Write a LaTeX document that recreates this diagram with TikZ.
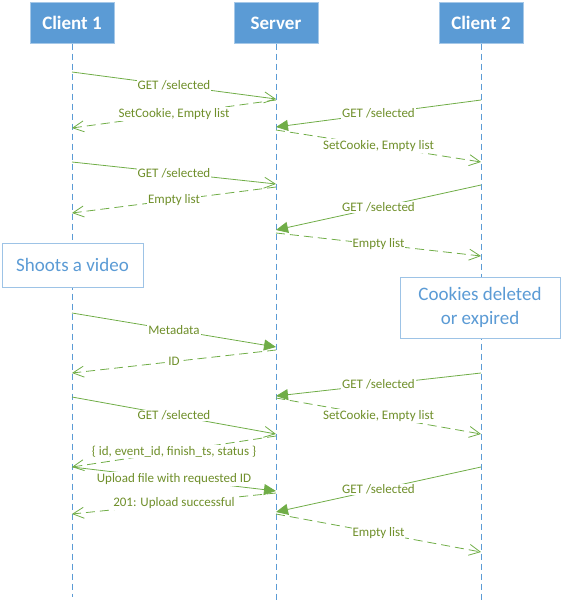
\documentclass[tikz,border=0pt]{standalone}
\usepackage{fontspec}
\setmainfont{Carlito}
\usepackage{xcolor}
\usetikzlibrary{arrows.meta}

\definecolor{lifeblue}{HTML}{5B9BD5}
\definecolor{noteblue}{HTML}{9DC3E6}
\definecolor{msggreen}{HTML}{70AD47}
\definecolor{lblgreen}{HTML}{6F8F2A}

\begin{document}
\begin{tikzpicture}[x=1pt, y=-1pt,
    head/.style={draw=lifeblue!55!white, fill=lifeblue, text=white, font=\fontsize{19}{22}\selectfont\bfseries, minimum width=84pt, minimum height=41pt},
    note/.style={draw=noteblue, fill=white, text=lifeblue, font=\fontsize{19}{24}\selectfont, align=center},
    life/.style={draw=lifeblue, line width=0.8pt, dash pattern=on 6pt off 4pt},
    req/.style={draw=msggreen, line width=0.8pt, -{Straight Barb[length=11pt, width=11pt, line width=0.8pt]}},
    reqf/.style={draw=msggreen, line width=0.8pt, -{Triangle[length=12pt, width=11pt]}},
    resp/.style={draw=msggreen, line width=0.8pt, dash pattern=on 9pt off 5pt, -{Straight Barb[length=11pt, width=11pt, line width=0.8pt]}},
    lbl/.style={fill=white, text=lblgreen, inner sep=1pt, font=\fontsize{13}{15}\selectfont}]
    \useasboundingbox (0,0) rectangle (562,603);

    % participants
    \node[head] (c1) at (72,23) {Client 1};
    \node[head] (srv) at (276,23) {Server};
    \node[head] (c2) at (481,23) {Client 2};

    \coordinate (c1end) at (72,597);
    \coordinate (srvend) at (276,600);
    \coordinate (c2end) at (481,602);
    \draw[life] (c1.south) -- (c1end);
    \draw[life] (srv.south) -- (srvend);
    \draw[life] (c2.south) -- (c2end);

    % notes on the lifelines
    \node[note, minimum width=141pt, minimum height=44pt] (shoot) at (72.5,265) {Shoots a video};
    \node[note, minimum width=160pt, minimum height=61pt] (cookies) at (480,307.5) {Cookies deleted\\or expired};

    % messages
    \foreach \n/\a/\ya/\b/\yb/\kind/\txt in {
        1/c1/72/srv/99/req/{GET /selected},
        2/srv/100/c1/128/resp/{SetCookie, Empty list},
        3/c2/100/srv/127/reqf/{GET /selected},
        4/srv/130/c2/162/resp/{SetCookie, Empty list},
        5/c1/162/srv/184/req/{GET /selected},
        6/srv/187/c1/213/resp/{Empty list},
        7/c2/185/srv/230/reqf/{GET /selected},
        8/srv/233/c2/256/resp/{Empty list},
        9/c1/313/srv/347/reqf/{Metadata},
        10/srv/350/c1/373/resp/{ID},
        11/c2/373/srv/396/reqf/{GET /selected},
        12/srv/398/c2/434/resp/{SetCookie, Empty list},
        13/c1/397/srv/434/req/{GET /selected},
        14/srv/436/c1/467/resp/{\{ id, event\_id, finish\_ts, status \}},
        15/c1/467/srv/491/reqf/{Upload file with requested ID},
        16/srv/493/c1/514/resp/{201: Upload successful},
        17/c2/467/srv/512/reqf/{GET /selected},
        18/srv/514/c2/552/resp/{Empty list}}
    {
        \coordinate (s\n) at (\a |- 0,\ya);
        \coordinate (e\n) at (\b |- 0,\yb);
        \draw[\kind] (s\n) -- (e\n) node[midway, lbl] {\txt};
    }
\end{tikzpicture}
\end{document}
